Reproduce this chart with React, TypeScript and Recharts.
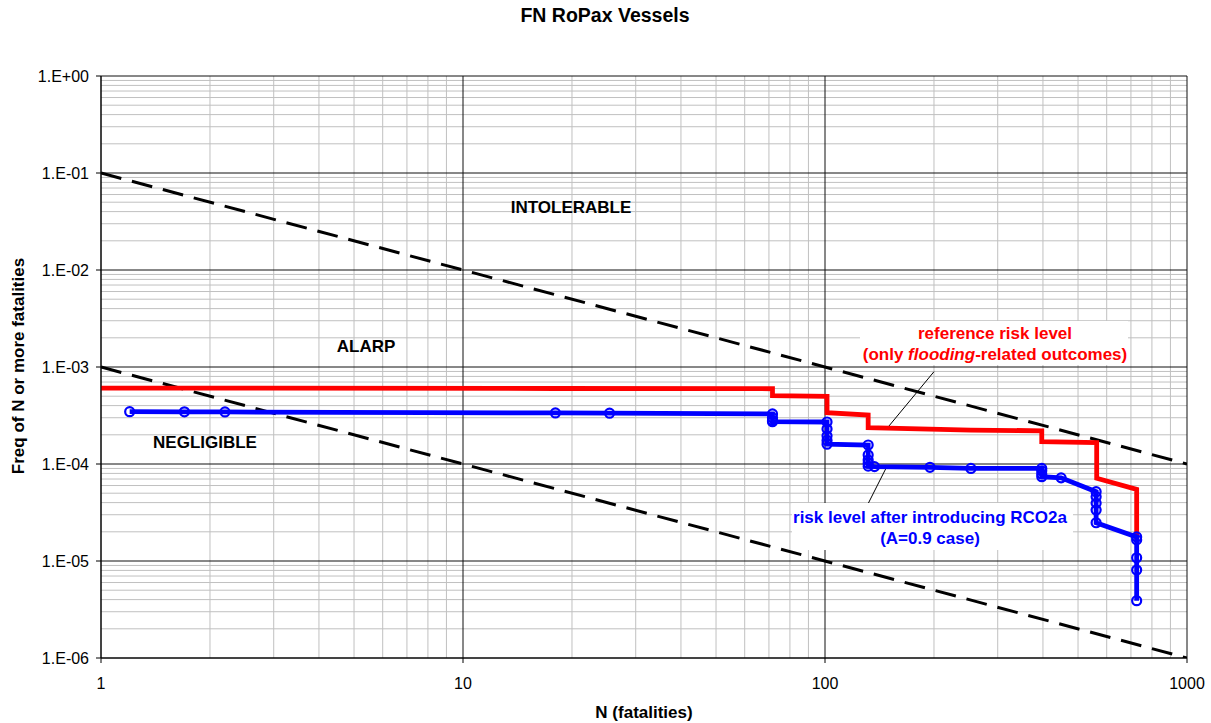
import React from 'react';
import { LineChart, Line, XAxis, YAxis, ReferenceLine } from 'recharts';

const FONT = '"Liberation Sans", Arial, Helvetica, sans-serif';

// axes
const xTicks = [1, 10, 100, 1000];
const yTicks = [1e-6, 1e-5, 1e-4, 1e-3, 1e-2, 1e-1, 1];
const minorSteps = [2, 3, 4, 5, 6, 7, 8, 9];

// reference risk level (only flooding-related outcomes)
const refN = [1, 2.2, 18, 71.6, 71.6, 101.3, 101.3, 131.6, 131.6, 253, 397, 397, 563, 563, 726, 726];
const refF = [6.07e-4, 6.05e-4, 6.0e-4, 5.97e-4, 5.06e-4, 4.97e-4, 3.38e-4, 3.2e-4, 2.37e-4, 2.24e-4, 2.2e-4, 1.7e-4, 1.66e-4, 7.13e-5, 5.48e-5, 1.65e-5];

// risk level after introducing RCO2a (A=0.9 case)
const rcoN = [1.2, 1.7, 2.2, 18, 25.4, 71.6, 71.6, 71.6, 71.6, 101.3, 101.3, 101.3, 101.3, 101.3, 131.6, 131.6, 131.6, 131.6, 131.6, 137, 195, 253, 397, 397, 397, 397, 449, 561, 561, 561, 561, 561, 726, 726, 726, 726, 726];
const rcoF = [3.46e-4, 3.45e-4, 3.44e-4, 3.36e-4, 3.34e-4, 3.28e-4, 3.0e-4, 2.8e-4, 2.73e-4, 2.71e-4, 2.3e-4, 1.95e-4, 1.75e-4, 1.6e-4, 1.57e-4, 1.24e-4, 1.1e-4, 1.02e-4, 9.5e-5, 9.4e-5, 9.25e-5, 9.0e-5, 9.0e-5, 8.5e-5, 7.9e-5, 7.4e-5, 7.2e-5, 5.18e-5, 4.6e-5, 3.94e-5, 3.36e-5, 2.48e-5, 1.77e-5, 1.65e-5, 1.08e-5, 8.07e-6, 3.9e-6];

// criteria lines
const upperN = [1, 1000];
const upperF = [1e-1, 1e-4];
const lowerN = [1, 1000];
const lowerF = [1e-3, 1e-6];

// annotation leader lines
const leaderRefN = [200, 149.6];
const leaderRefF = [8.95e-4, 2.42e-4];
const leaderRcoN = [148.6, 131.7];
const leaderRcoF = [9.6e-5, 3.93e-5];

const toPoints = (ns: number[], fs: number[]) => ns.map((n, i) => ({ n, f: fs[i] }));
const toSegment = (ns: number[], fs: number[]) => ns.map((n, i) => ({ x: n, y: fs[i] }));

const refData = toPoints(refN, refF);
const rcoData = toPoints(rcoN, rcoF);
const upperData = toPoints(upperN, upperF);
const lowerData = toPoints(lowerN, lowerF);

const minorX = xTicks.slice(0, -1).flatMap(t => minorSteps.map(s => t * s));
const minorY = yTicks.slice(0, -1).flatMap(t => minorSteps.map(s => t * s));

const fmtExp = (v: number) => {
  const e = Math.round(Math.log10(v));
  return `1.E${e < 0 ? '-' : '+'}${String(Math.abs(e)).padStart(2, '0')}`;
};

const Txt = ({ x, y, children, style }: { x: number; y: number; children: React.ReactNode; style?: React.CSSProperties }) => (
  <div
    style={{
      position: 'absolute',
      left: x,
      top: y,
      transform: 'translate(-50%, -50%)',
      whiteSpace: 'nowrap',
      lineHeight: 1,
      fontFamily: FONT,
      ...style
    }}
  >
    {children}
  </div>
);

const bold17 = { fontSize: 17, fontWeight: 'bold' as const };

export default function App() {
  return (
    <div style={{ position: 'absolute', left: 0, top: 0, width: 1211, height: 723, background: '#fff' }}>
      <LineChart width={1211} height={723} margin={{ top: 76, right: 24, bottom: 0, left: 0 }}>
        {/* minor grid */}
        {minorX.map(v => (
          <ReferenceLine key={'mx' + v} x={v} stroke="#c0c0c0" strokeWidth={1} zIndex={-60} />
        ))}
        {minorY.map(v => (
          <ReferenceLine key={'my' + v} y={v} stroke="#c0c0c0" strokeWidth={1} zIndex={-60} />
        ))}
        {/* decade grid */}
        {xTicks.map(v => (
          <ReferenceLine key={'Mx' + v} x={v} stroke="#111" strokeWidth={1} zIndex={-50} />
        ))}
        {yTicks.map(v => (
          <ReferenceLine key={'My' + v} y={v} stroke="#111" strokeWidth={1} zIndex={-50} />
        ))}

        <XAxis
          type="number"
          dataKey="n"
          scale="log"
          domain={[1, 1000]}
          ticks={xTicks}
          allowDataOverflow
          height={65}
          tickSize={5}
          tickMargin={15}
          stroke="#000"
          tick={{ fill: '#000', fontSize: 16, fontFamily: FONT }}
        />
        <YAxis
          type="number"
          dataKey="f"
          scale="log"
          domain={[1e-6, 1]}
          ticks={yTicks}
          allowDataOverflow
          width={101}
          tickSize={5}
          tickMargin={7}
          stroke="#000"
          tickFormatter={fmtExp}
          tick={{ fill: '#000', fontSize: 16, fontFamily: FONT }}
        />

        {/* criteria lines */}
        <Line data={upperData} dataKey="f" stroke="#000" strokeWidth={3} strokeDasharray="21 11" dot={false} activeDot={false} isAnimationActive={false} />
        <Line data={lowerData} dataKey="f" stroke="#000" strokeWidth={3} strokeDasharray="21 11" dot={false} activeDot={false} isAnimationActive={false} />

        {/* leader lines */}
        <ReferenceLine segment={toSegment(leaderRefN, leaderRefF)} stroke="#000" strokeWidth={1} />
        <ReferenceLine segment={toSegment(leaderRcoN, leaderRcoF)} stroke="#000" strokeWidth={1} />

        {/* FN curves */}
        <Line data={refData} dataKey="f" type="linear" stroke="#ff0000" strokeWidth={4.8} dot={false} activeDot={false} isAnimationActive={false} />
        <Line
          data={rcoData}
          dataKey="f"
          type="linear"
          stroke="#0000ff"
          strokeWidth={4.8}
          dot={{ r: 4.5, stroke: '#0000ff', strokeWidth: 2.2, fill: 'none' }}
          activeDot={false}
          isAnimationActive={false}
        />
      </LineChart>

      {/* title and axis titles */}
      <Txt x={605} y={16} style={{ fontSize: 19.5, fontWeight: 'bold' }}>FN RoPax Vessels</Txt>
      <Txt x={644} y={712} style={bold17}>N (fatalities)</Txt>
      <Txt x={17.5} y={366} style={{ ...bold17, transform: 'translate(-50%, -50%) rotate(-90deg)' }}>
        Freq of N or more fatalities
      </Txt>

      {/* region labels */}
      <Txt x={571} y={207} style={bold17}>INTOLERABLE</Txt>
      <Txt x={366} y={346} style={bold17}>ALARP</Txt>
      <Txt x={205} y={442} style={bold17}>NEGLIGIBLE</Txt>

      {/* series annotations */}
      <div style={{ position: 'absolute', left: 860, top: 321, width: 268, height: 44, background: '#fff' }} />
      <Txt x={995} y={333} style={{ ...bold17, color: '#ff0000' }}>reference risk level</Txt>
      <Txt x={995} y={354} style={{ ...bold17, color: '#ff0000' }}>
        (only <i>flooding</i>-related outcomes)
      </Txt>

      <div style={{ position: 'absolute', left: 792, top: 503, width: 281, height: 47, background: '#fff' }} />
      <Txt x={930} y={517} style={{ ...bold17, color: '#0000ff' }}>risk level after introducing RCO2a</Txt>
      <Txt x={930} y={538} style={{ ...bold17, color: '#0000ff' }}>(A=0.9 case)</Txt>
    </div>
  );
}
